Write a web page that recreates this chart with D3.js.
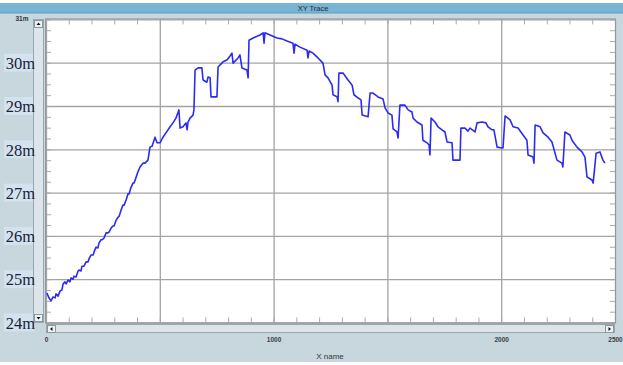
<!DOCTYPE html>
<html>
<head>
<meta charset="utf-8">
<script src="https://cdn.jsdelivr.net/npm/d3@7/dist/d3.min.js"></script>
<style>
  html, body { margin: 0; padding: 0; background: #ffffff; }
  svg { display: block; }
</style>
</head>
<body>
<svg id="chart" width="623" height="365"></svg>
<script>
// Sample index (x) and trace reading in m (y)
const sampleIndex = [
  4, 13, 22, 31, 40, 44, 53, 62, 70, 75, 83, 88, 97, 105, 110, 119, 123, 132, 141, 145,
  154, 158, 167, 176, 185, 189, 198, 207, 211, 220, 228, 233, 242, 246, 255, 264, 272, 277, 286, 294,
  299, 308, 316, 321, 330, 338, 343, 352, 360, 365, 373, 382, 387, 395, 404, 413, 426, 435, 448, 457,
  466, 479, 488, 501, 514, 527, 545, 558, 571, 584, 589, 602, 615, 620, 624, 633, 646, 650, 655, 668,
  685, 690, 707, 712, 721, 725, 743, 751, 756, 778, 795, 808, 817, 822, 844, 852, 861, 883, 888, 892,
  910, 940, 954, 958, 962, 984, 1015, 1037, 1059, 1085, 1090, 1094, 1116, 1147, 1151, 1156, 1173, 1195, 1217, 1226,
  1239, 1257, 1261, 1279, 1283, 1287, 1305, 1327, 1345, 1353, 1371, 1384, 1389, 1415, 1424, 1437, 1459, 1481, 1490, 1503,
  1520, 1525, 1542, 1547, 1555, 1577, 1591, 1608, 1613, 1630, 1652, 1656, 1674, 1683, 1687, 1692, 1709, 1722, 1740, 1753,
  1762, 1784, 1788, 1810, 1819, 1823, 1841, 1854, 1863, 1885, 1894, 1916, 1933, 1942, 1960, 1968, 1982, 2004, 2008, 2017,
  2039, 2052, 2074, 2096, 2113, 2118, 2140, 2144, 2149, 2171, 2184, 2206, 2223, 2245, 2267, 2271, 2280, 2302, 2311, 2333,
  2355, 2368, 2377, 2399, 2404, 2417, 2434, 2447, 2456
];
const traceValues = [
  24.68, 24.57, 24.50, 24.59, 24.57, 24.66, 24.61, 24.73, 24.75, 24.89, 24.94, 24.89, 24.98, 24.94, 25.03, 25.00, 25.07, 25.05, 25.19, 25.21,
  25.19, 25.30, 25.30, 25.40, 25.40, 25.47, 25.56, 25.56, 25.63, 25.74, 25.72, 25.84, 25.91, 25.91, 25.95, 26.07, 26.07, 26.09, 26.18, 26.23,
  26.23, 26.36, 26.43, 26.45, 26.60, 26.71, 26.71, 26.83, 26.97, 26.97, 27.11, 27.22, 27.22, 27.34, 27.48, 27.59, 27.68, 27.68, 27.75, 28.05,
  28.07, 28.28, 28.15, 28.15, 28.28, 28.38, 28.52, 28.61, 28.72, 28.91, 28.49, 28.52, 28.61, 28.45, 28.63, 28.72, 28.79, 28.91, 29.83, 29.88,
  29.88, 29.60, 29.55, 29.67, 29.65, 29.21, 29.21, 29.21, 29.90, 30.02, 30.06, 30.15, 30.22, 29.99, 30.11, 30.18, 29.88, 29.83, 29.65, 30.52,
  30.57, 30.64, 30.69, 30.45, 30.69, 30.64, 30.57, 30.55, 30.50, 30.45, 30.22, 30.43, 30.36, 30.29, 30.11, 30.27, 30.22, 30.11, 29.99, 29.72,
  29.65, 29.48, 29.26, 29.21, 29.10, 29.76, 29.76, 29.60, 29.48, 29.26, 29.19, 29.14, 28.79, 28.75, 29.30, 29.30, 29.21, 29.16, 28.95, 28.84,
  28.79, 28.47, 28.40, 28.26, 29.02, 29.02, 28.91, 28.86, 28.72, 28.63, 28.56, 28.21, 28.15, 28.10, 27.87, 28.72, 28.63, 28.52, 28.45, 28.40,
  28.17, 28.15, 27.75, 27.75, 27.75, 28.49, 28.49, 28.42, 28.49, 28.40, 28.61, 28.63, 28.61, 28.52, 28.45, 28.45, 28.05, 28.03, 28.03, 28.77,
  28.68, 28.52, 28.49, 28.33, 28.21, 27.87, 27.82, 27.68, 28.56, 28.52, 28.38, 28.28, 28.17, 27.75, 27.68, 27.59, 28.40, 28.33, 28.21, 28.05,
  27.94, 27.82, 27.36, 27.29, 27.22, 27.91, 27.94, 27.75, 27.68
];

const xGridTicks = [0, 500, 1000, 1500, 2000, 2500];
const xLabelTicks = [0, 1000, 2000, 2500];
const yGridTicks = [24, 25, 26, 27, 28, 29, 30, 31];
const yLabelTicks = [24, 25, 26, 27, 28, 29, 30];
const yTopLabel = 31;
const windowTitle = "XY Trace";
const xAxisName = "X name";

const svg = d3.select("#chart");
const W = 623, H = 365;
const plot = { left: 46, right: 615, top: 19.4, bottom: 322.5 };

const x = d3.scaleLinear().domain([0, 2500]).range([plot.left, plot.right]);
const y = d3.scaleLinear().domain([24, 31]).range([plot.bottom, plot.top]);

// window background and title bar
svg.append("rect").attr("x", 0).attr("y", 0).attr("width", W).attr("height", H).attr("fill", "#ffffff");
svg.append("rect").attr("x", 0).attr("y", 12).attr("width", W).attr("height", 350).attr("fill", "#c8d6de");
svg.append("rect").attr("x", 0).attr("y", 3).attr("width", W).attr("height", 10).attr("fill", "#78b5d4");
svg.append("line").attr("x1", 0).attr("x2", W).attr("y1", 13).attr("y2", 13).attr("stroke", "#5c9dc0").attr("stroke-width", 1);
svg.append("text").attr("x", 313).attr("y", 11).attr("text-anchor", "middle")
  .attr("font-family", "Liberation Sans, Arial, sans-serif").attr("font-size", 7.5)
  .attr("fill", "#1d2a33").text(windowTitle);

// value label highlight boxes
svg.append("g").selectAll("rect").data(yLabelTicks).join("rect")
  .attr("x", 4).attr("y", d => y(d) - 9).attr("width", 30).attr("height", 18)
  .attr("fill", "#d3e2ef");

// vertical scroll strip
svg.append("rect").attr("x", 33.5).attr("y", 19.5).attr("width", 10).attr("height", 303)
  .attr("fill", "#dde5ea").attr("stroke", "#9aa7ae");
function button(x0, y0, w, h, dir) {
  const g = svg.append("g");
  g.append("rect").attr("x", x0 + 0.5).attr("y", y0 + 0.5).attr("width", w).attr("height", h)
    .attr("fill", "#eef2f4").attr("stroke", "#8c979d");
  const cx = x0 + 0.5 + w / 2, cy = y0 + 0.5 + h / 2, s = 2;
  let pts;
  if (dir === "up") pts = [[cx - s, cy + 1], [cx + s, cy + 1], [cx, cy - 1.5]];
  if (dir === "down") pts = [[cx - s, cy - 1], [cx + s, cy - 1], [cx, cy + 1.5]];
  if (dir === "left") pts = [[cx + 1, cy - s], [cx + 1, cy + s], [cx - 1.5, cy]];
  if (dir === "right") pts = [[cx - 1, cy - s], [cx - 1, cy + s], [cx + 1.5, cy]];
  g.append("polygon").attr("points", pts.map(p => p.join(",")).join(" ")).attr("fill", "#111");
}
button(34, 20, 8, 7, "up");
button(34, 314, 8, 7, "down");

// horizontal scroll strip
svg.append("rect").attr("x", 46.5).attr("y", 324.5).attr("width", 568).attr("height", 8)
  .attr("fill", "#dde5ea").attr("stroke", "#9aa7ae");
button(47, 325, 8, 7, "left");
button(605, 325, 8, 7, "right");

// plot area
svg.append("rect").attr("x", plot.left).attr("y", plot.top).attr("width", plot.right - plot.left)
  .attr("height", plot.bottom - plot.top).attr("fill", "#ffffff");

// grid lines
const grid = svg.append("g");
grid.append("g").attr("transform", `translate(0,${plot.bottom})`)
  .call(d3.axisBottom(x).tickValues(xGridTicks).tickSize(-(plot.bottom - plot.top)).tickFormat(""))
  .call(g => g.select(".domain").remove())
  .call(g => g.selectAll("line").attr("stroke", "#a3a3a3").attr("stroke-width", 1.3));
grid.append("g").attr("transform", `translate(${plot.left},0)`)
  .call(d3.axisLeft(y).tickValues(yGridTicks).tickSize(-(plot.right - plot.left)).tickFormat(""))
  .call(g => g.select(".domain").remove())
  .call(g => g.selectAll("line").attr("stroke", "#a3a3a3").attr("stroke-width", 1.3));

// minor ticks on all four edges
const xMinor = d3.range(0, 2501, 100);
const yMinor = d3.range(24, 31.001, 0.25);
const minorStyle = g => g.call(s => s.select(".domain").remove())
  .call(s => s.selectAll("line").attr("stroke", "#a8a8a8").attr("stroke-width", 1));
svg.append("g").attr("transform", `translate(0,${plot.top})`)
  .call(d3.axisTop(x).tickValues(xMinor).tickSize(-5).tickFormat("")).call(minorStyle);
svg.append("g").attr("transform", `translate(0,${plot.bottom})`)
  .call(d3.axisBottom(x).tickValues(xMinor).tickSize(-5).tickFormat("")).call(minorStyle);
svg.append("g").attr("transform", `translate(${plot.left},0)`)
  .call(d3.axisLeft(y).tickValues(yMinor).tickSize(-5).tickFormat("")).call(minorStyle);
svg.append("g").attr("transform", `translate(${plot.right},0)`)
  .call(d3.axisRight(y).tickValues(yMinor).tickSize(-5).tickFormat("")).call(minorStyle);

// plot frame
svg.append("rect").attr("x", plot.left - 0.5).attr("y", plot.top - 0.5)
  .attr("width", plot.right - plot.left + 1).attr("height", plot.bottom - plot.top + 1)
  .attr("fill", "none").attr("stroke", "#8f9a9f").attr("stroke-width", 1);

// trace
const points = sampleIndex.map((v, i) => [v, traceValues[i]]);
const line = d3.line().x(d => x(d[0])).y(d => y(d[1]));
svg.append("path").datum(points).attr("d", line)
  .attr("fill", "none").attr("stroke", "#2b2bf2").attr("stroke-width", 1.6)
  .attr("stroke-linejoin", "round");

// y value labels
const yLab = svg.append("g").attr("transform", "translate(35,0)")
  .call(d3.axisLeft(y).tickValues(yLabelTicks).tickSize(0).tickPadding(0).tickFormat(d => d + "m"));
yLab.select(".domain").remove();
yLab.selectAll("text").attr("font-family", "Liberation Serif, Times New Roman, serif")
  .attr("font-size", 16.5).attr("fill", "#1a2236").attr("dy", "0.35em");
svg.append("text").attr("x", 22).attr("y", y(yTopLabel) + 2).attr("text-anchor", "middle")
  .attr("font-family", "Liberation Sans, Arial, sans-serif").attr("font-size", 6.5).attr("font-weight", "bold")
  .attr("fill", "#2a3340").text(yTopLabel + "m");

// x value labels
const xLab = svg.append("g").attr("transform", "translate(0,337)")
  .call(d3.axisBottom(x).tickValues(xLabelTicks).tickSize(0).tickPadding(0).tickFormat(d3.format("d")));
xLab.select(".domain").remove();
xLab.selectAll("text").attr("font-family", "Liberation Sans, Arial, sans-serif")
  .attr("font-size", 6.5).attr("font-weight", "bold").attr("fill", "#3a4048");

svg.append("text").attr("x", 330).attr("y", 359).attr("text-anchor", "middle")
  .attr("font-family", "Liberation Sans, Arial, sans-serif").attr("font-size", 8)
  .attr("fill", "#2e3740").text(xAxisName);
</script>
</body>
</html>
